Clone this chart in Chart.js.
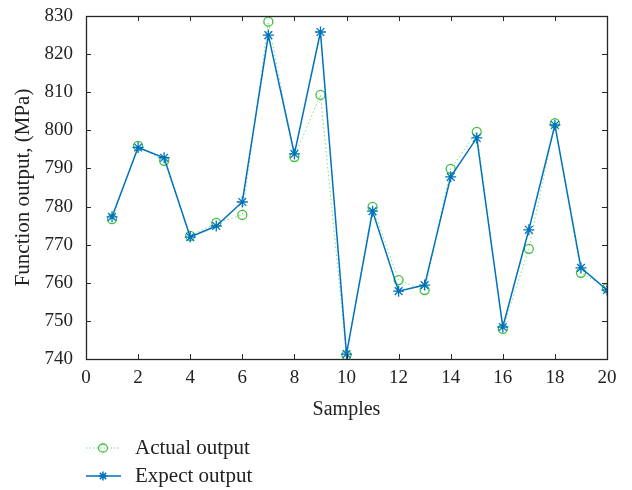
<!DOCTYPE html>
<html><head><meta charset="utf-8">
<script src="https://cdn.jsdelivr.net/npm/chart.js@4"></script>
<style>html,body{margin:0;padding:0;background:#fff}#wrap{width:632px;height:490px;position:relative}</style>
</head><body><div id="wrap"><canvas id="c" width="632" height="490"></canvas></div>
<script>
const samples = [1,2,3,4,5,6,7,8,9,10,11,12,13,14,15,16,17,18,19,20];
const actualOutput = [776.7,795.9,792.0,772.3,775.7,777.8,828.5,793.0,809.3,741.0,779.9,760.7,758.1,789.9,799.6,747.9,768.9,801.9,762.6,758.6];
const expectOutput = [777.3,795.5,792.8,772.0,774.9,781.2,825.0,793.8,825.8,741.3,778.8,757.8,759.4,787.8,798.0,748.4,773.9,801.4,763.9,758.1];
const xTicks = [0,2,4,6,8,10,12,14,16,18,20];
const yTicks = [740,750,760,770,780,790,800,810,820,830];
const seriesNames = ['Actual output','Expect output'];
const xTitle = 'Samples';
const yTitle = 'Function output, (MPa)';

const BLUE = '#0072BD', GREEN = '#3cbf3c', GREENLINE = '#7ddc7d';
const FONT = "'Liberation Serif','DejaVu Serif',serif";

const boxPlugin = {
  id: 'box',
  afterDatasetsDraw(chart) {
    const {ctx, chartArea: a, scales: {x, y}} = chart;
    ctx.save();
    ctx.strokeStyle = '#262626';
    ctx.lineWidth = 1;
    ctx.beginPath();
    xTicks.forEach(v => { const px = Math.round(x.getPixelForValue(v)) + 0.5;
      ctx.moveTo(px, a.bottom); ctx.lineTo(px, a.bottom - 5);
      ctx.moveTo(px, a.top); ctx.lineTo(px, a.top + 5); });
    yTicks.forEach(v => { const py = Math.round(y.getPixelForValue(v)) + 0.5;
      ctx.moveTo(a.left, py); ctx.lineTo(a.left + 5, py);
      ctx.moveTo(a.right, py); ctx.lineTo(a.right - 5, py); });
    ctx.stroke();
    ctx.lineWidth = 1.3;
    ctx.strokeRect(Math.round(a.left) + 0.5, Math.round(a.top) + 0.5, Math.round(a.right - a.left), Math.round(a.bottom - a.top));
    ctx.restore();
  },
  afterDraw(chart) {
    const {ctx} = chart;
    ctx.save();
    ctx.font = '21px ' + FONT;
    ctx.fillStyle = '#222';
    ctx.textBaseline = 'middle';
    ctx.textAlign = 'left';
    let yy = 448;
    ctx.strokeStyle = GREENLINE; ctx.lineWidth = 1; ctx.setLineDash([1.5, 2]);
    ctx.beginPath(); ctx.moveTo(86, yy); ctx.lineTo(121, yy); ctx.stroke();
    ctx.setLineDash([]);
    ctx.strokeStyle = GREEN; ctx.lineWidth = 1.3;
    ctx.beginPath(); ctx.ellipse(103, yy, 4.5, 4, 0, 0, Math.PI * 2); ctx.stroke();
    ctx.fillText(seriesNames[0], 135, yy);
    yy = 476;
    ctx.strokeStyle = BLUE; ctx.lineWidth = 1.5;
    ctx.beginPath(); ctx.moveTo(86, yy); ctx.lineTo(121, yy); ctx.stroke();
    const r = 4.5;
    ctx.beginPath();
    ctx.moveTo(103 - r, yy); ctx.lineTo(103 + r, yy);
    ctx.moveTo(103, yy - r); ctx.lineTo(103, yy + r);
    ctx.moveTo(103 - r * 0.7, yy - r * 0.7); ctx.lineTo(103 + r * 0.7, yy + r * 0.7);
    ctx.moveTo(103 - r * 0.7, yy + r * 0.7); ctx.lineTo(103 + r * 0.7, yy - r * 0.7);
    ctx.stroke();
    ctx.fillText(seriesNames[1], 135, yy);
    ctx.restore();
  }
};

new Chart(document.getElementById('c'), {
  type: 'line',
  data: {
    datasets: [
      { label: seriesNames[0], data: samples.map((s, i) => ({x: s, y: actualOutput[i]})),
        borderColor: GREENLINE, borderWidth: 1, borderDash: [1.5, 2.5],
        pointStyle: 'circle', pointRadius: 4.5, pointBorderColor: GREEN, pointBorderWidth: 1.3,
        pointBackgroundColor: 'rgba(0,0,0,0)', tension: 0, order: 2 },
      { label: seriesNames[1], data: samples.map((s, i) => ({x: s, y: expectOutput[i]})),
        borderColor: BLUE, borderWidth: 1.5,
        pointStyle: 'star', pointRadius: 5.5, pointBorderColor: BLUE, pointBorderWidth: 1.3,
        pointBackgroundColor: BLUE, tension: 0, order: 1 }
    ]
  },
  options: {
    responsive: false, animation: false, devicePixelRatio: 1,
    layout: { padding: { top: 16, right: 25, bottom: 68, left: 0 } },
    plugins: { legend: { display: false }, tooltip: { enabled: false } },
    scales: {
      x: { type: 'linear', min: 0, max: 20,
        afterBuildTicks: s => { s.ticks = xTicks.map(v => ({value: v})); },
        afterFit: s => { s.height = 63; s.paddingLeft = 0; s.paddingRight = 0; },
        grid: { display: false, drawTicks: false }, border: { display: false },
        ticks: { color: '#222', font: { family: FONT, size: 19 }, padding: 8, maxRotation: 0 },
        title: { display: true, text: xTitle, color: '#222', font: { family: FONT, size: 20 }, padding: { top: 0, bottom: 0 } } },
      y: { min: 740, max: 830,
        afterBuildTicks: s => { s.ticks = yTicks.map(v => ({value: v})); },
        afterFit: s => { s.width = 86; s.paddingTop = 0; s.paddingBottom = 0; },
        grid: { display: false, drawTicks: false }, border: { display: false },
        ticks: { color: '#222', font: { family: FONT, size: 19 }, padding: 13 },
        title: { display: true, text: yTitle, color: '#222', font: { family: FONT, size: 21 }, padding: { top: 11, bottom: 0 } } }
    }
  },
  plugins: [boxPlugin]
});
</script></body></html>
